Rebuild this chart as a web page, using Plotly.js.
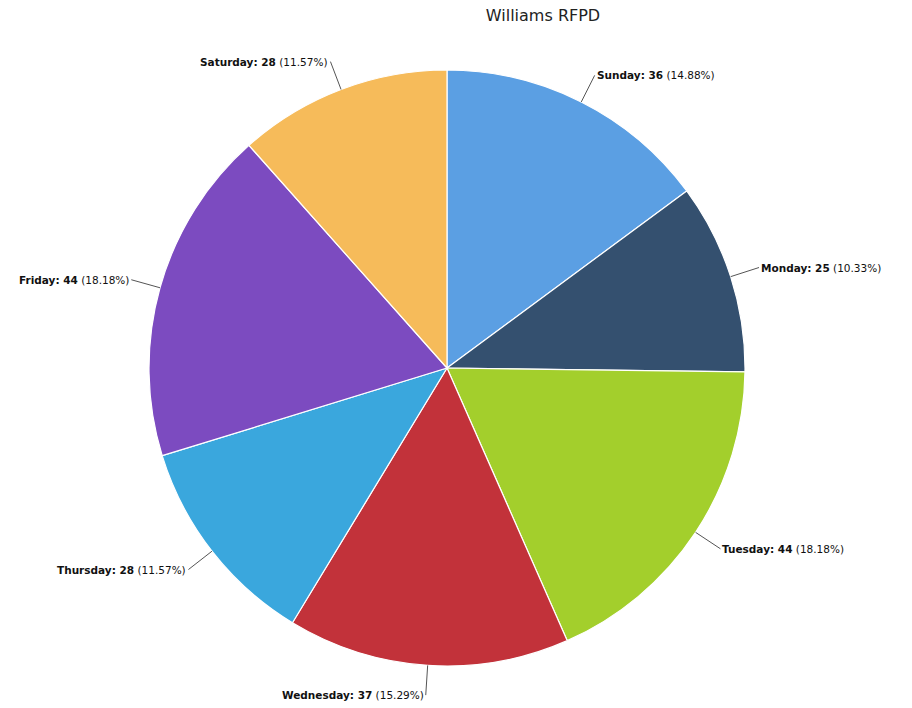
<!DOCTYPE html>
<html>
<head>
<meta charset="utf-8">
<script src="https://cdn.plot.ly/plotly-3.0.1.min.js"></script>
<style>html,body{margin:0;padding:0;background:#fff;}#chart{width:912px;height:708px;}</style>
</head>
<body>
<div id="chart"></div>
<script>
const days = ["Sunday", "Monday", "Tuesday", "Wednesday", "Thursday", "Friday", "Saturday"];
const counts = [36, 25, 44, 37, 28, 44, 28];
const sliceColors = ["#5b9fe3", "#34506f", "#a3cf2c", "#c2323a", "#3aa7dd", "#7c4bc0", "#f6bb5a"];

const W = 912, H = 708;
const cx = 447, cy = 368, R = 298;
const domX = [(cx - R) / W, (cx + R) / W];
const domY = [(H - cy - R) / H, (H - cy + R) / H];

const total = counts.reduce((a, b) => a + b, 0);
let cum = 0;
const annotations = [];
counts.forEach((v, i) => {
  const mid = (cum + v / 2) / total * 2 * Math.PI;
  cum += v;
  const s = Math.sin(mid), c = Math.cos(mid);
  const hx = cx + R * s, hy = cy - R * c;
  const tx = cx + R * 1.1 * s, ty = cy - R * 1.1 * c;
  const pct = (v / total * 100).toFixed(2);
  annotations.push({
    xref: 'paper', yref: 'paper',
    x: hx / W, y: 1 - hy / H,
    ax: tx - hx, ay: ty - hy,
    showarrow: true, arrowhead: 0, arrowwidth: 1, arrowcolor: '#555',
    xanchor: s >= 0 ? 'left' : 'right', yanchor: 'middle',
    text: '<b>' + days[i] + ': ' + v + '</b> (' + pct + '%)',
    font: {family: 'DejaVu Sans, sans-serif', size: 10.5, color: '#111'}
  });
});

const data = [{
  type: 'pie',
  labels: days,
  values: counts,
  sort: false,
  direction: 'clockwise',
  rotation: 0,
  textinfo: 'none',
  hoverinfo: 'label+value+percent',
  marker: {colors: sliceColors, line: {color: '#ffffff', width: 1.2}},
  domain: {x: domX, y: domY},
  showlegend: false
}];

const layout = {
  width: W, height: H,
  margin: {l: 0, r: 0, t: 0, b: 0},
  paper_bgcolor: '#ffffff',
  title: {text: 'Williams RFPD', x: 543 / W, xanchor: 'center', xref: 'paper', y: 1 - 15 / H, yanchor: 'middle', yref: 'container',
          font: {family: 'DejaVu Sans, sans-serif', size: 16, color: '#222'}},
  annotations: annotations,
  showlegend: false
};

Plotly.newPlot('chart', data, layout, {displayModeBar: false, staticPlot: true});
</script>
</body>
</html>
